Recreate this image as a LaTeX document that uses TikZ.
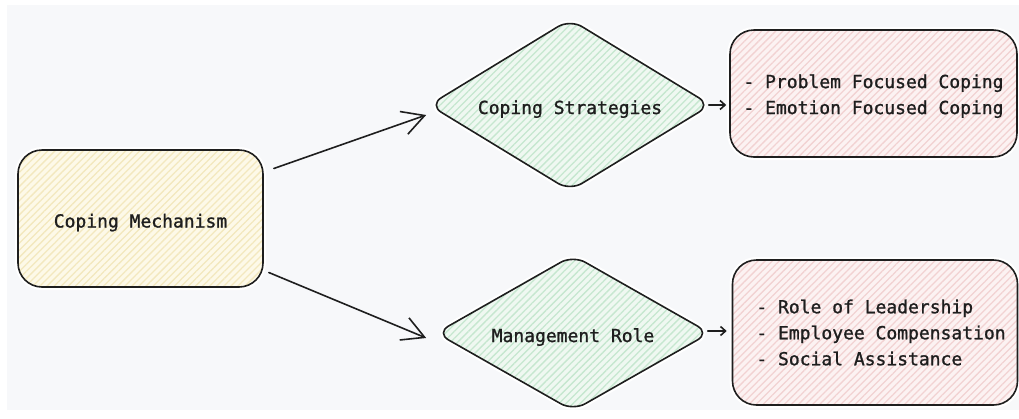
\documentclass[tikz,border=0pt]{standalone}
\usepackage{fontspec}
\newfontfamily\labelfont[FakeBold=1.2]{DejaVu Sans Mono}
\usetikzlibrary{shapes.geometric,arrows.meta,patterns.meta}

\definecolor{canvas}{HTML}{F7F8FA}
\definecolor{ink}{HTML}{1E1E1E}
\definecolor{yelbase}{HTML}{FDF9E8}
\definecolor{yelline}{HTML}{F3E8BE}
\definecolor{grnbase}{HTML}{EFF8F1}
\definecolor{grnline}{HTML}{C6E7CF}
\definecolor{redbase}{HTML}{FCF2F2}
\definecolor{redline}{HTML}{F2D2D2}

\tikzset{
  hatched/.style n args={2}{
    preaction={draw=white, line width=6pt},
    preaction={fill=#1},
    pattern={Lines[angle=45, distance=5pt, line width=1.3pt]},
    pattern color=#2,
    draw=ink, line width=1.6pt
  },
  label text/.style={font=\labelfont\fontsize{18}{26}\selectfont, text=ink},
  lowered/.style={text height=22pt, text depth=4pt},
  rootbox/.style={hatched={yelbase}{yelline}, label text, lowered, rectangle,
    rounded corners=24pt, minimum width=245pt, minimum height=137pt},
  choice/.style={hatched={grnbase}{grnline}, label text, lowered, diamond,
    rounded corners=14pt, inner sep=0pt},
  listbox/.style={hatched={redbase}{redline}, label text, rectangle,
    rounded corners=24pt, align=left, inner sep=0pt},
  bigarrow/.style={draw=ink, line width=1.6pt, line cap=round,
    -{Straight Barb[length=22pt, width=24pt, line width=1.6pt]}},
  smallarrow/.style={draw=ink, line width=1.6pt, line cap=round,
    -{Straight Barb[length=5pt, width=9pt, line width=1.6pt]}}
}

\begin{document}
\begin{tikzpicture}[x=1pt, y=-1pt]
  % page and canvas
  \fill[white] (0,0) rectangle (1019,418);
  \fill[canvas] (7,5) rectangle (1019,410);
  \useasboundingbox (0,0) rectangle (1019,418);

  % nodes
  \node[rootbox] (cm) at (140.5,218.5) {Coping Mechanism};
  \node[choice, aspect=1.64, minimum width=282pt, minimum height=172pt] (cs) at (570,105) {Coping Strategies};
  \node[choice, aspect=1.76, minimum width=274pt, minimum height=156pt] (mr) at (573,333) {Management Role};
  \node[listbox, minimum width=287pt, minimum height=127pt] (pf) at (873.5,93.5)
    {\rule{0pt}{19pt}- Problem Focused Coping\\- Emotion Focused Coping};
  \node[listbox, minimum width=285pt, minimum height=145pt] (rl) at (875,332.5)
    {\hspace*{12pt}- Role of Leadership\\\hspace*{12pt}- Employee Compensation\\\hspace*{12pt}- Social Assistance};

  % connectors
  \draw[bigarrow] ([xshift=10pt, yshift=50pt]cm.east) -- ([xshift=-2pt, yshift=-10pt]cs.west);
  \draw[bigarrow] ([xshift=5pt, yshift=-54pt]cm.east) -- ([xshift=-9pt, yshift=-5pt]mr.west);
  \draw[smallarrow] ([xshift=-3pt]cs.east) -- ([xshift=-3pt, yshift=-11.5pt]pf.west);
  \draw[smallarrow] ([xshift=-3pt, yshift=2pt]mr.east) -- ([xshift=-5pt, yshift=1.5pt]rl.west);
\end{tikzpicture}
\end{document}
